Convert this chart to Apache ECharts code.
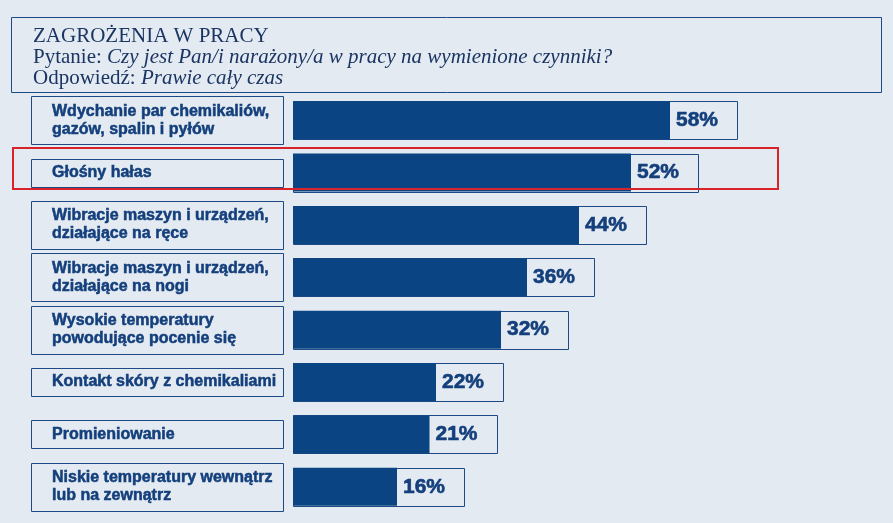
<!DOCTYPE html>
<html>
<head>
<meta charset="utf-8">
<script src="https://cdn.jsdelivr.net/npm/echarts@6/dist/echarts.min.js"></script>
<style>
html,body{margin:0;padding:0;background:#e4eaf1;}
#chart{width:893px;height:523px;}
</style>
</head>
<body>
<div id="chart"></div>
<script>
const categories = [
  'Wdychanie par chemikaliów,\ngazów, spalin i pyłów',
  'Głośny hałas',
  'Wibracje maszyn i urządzeń,\ndziałające na ręce',
  'Wibracje maszyn i urządzeń,\ndziałające na nogi',
  'Wysokie temperatury\npowodujące pocenie się',
  'Kontakt skóry z chemikaliami',
  'Promieniowanie',
  'Niskie temperatury wewnątrz\nlub na zewnątrz'
];
const values = [58, 52, 44, 36, 32, 22, 21, 16];
const titleText = 'ZAGROŻENIA W PRACY';
const questionLabel = 'Pytanie: ';
const questionText = 'Czy jest Pan/i narażony/a w pracy na wymienione czynniki?';
const answerLabel = 'Odpowiedź: ';
const answerText = 'Prawie cały czas';

const DARK = '#0a4482';
const LINE = '#1d4a85';
const TXT = '#133f7c';

const chart = echarts.init(document.getElementById('chart'), null, {renderer: 'canvas'});
const serif = {fontFamily: 'Liberation Serif', fontSize: 21, fontWeight: 'normal', color: '#1b3563', lineHeight: 21};
chart.setOption({
  backgroundColor: '#e4eaf1',
  animation: false,
  title: {
    left: 28, top: 21,
    text: '{a|' + titleText + '}\n{b|' + questionLabel + '}{c|' + questionText + '}\n{b|' + answerLabel + '}{c|' + answerText + '}',
    textStyle: {
      fontWeight: 'normal',
      rich: {
        a: serif,
        b: serif,
        c: Object.assign({}, serif, {fontStyle: 'italic'})
      }
    }
  },
  graphic: [
    {type: 'rect', shape: {x: 11.5, y: 17.5, width: 870, height: 75}, style: {fill: 'none', stroke: LINE, lineWidth: 1}, z: 10},
    {type: 'rect', shape: {x: 13, y: 148, width: 765, height: 41}, style: {fill: 'none', stroke: '#d9232a', lineWidth: 2}, z: 10}
  ],
  grid: {left: 293, right: 15, top: 94, bottom: 10, containLabel: false},
  xAxis: {type: 'value', min: 0, max: 90, show: false},
  yAxis: {
    type: 'category', data: categories, inverse: true,
    axisLine: {show: false}, axisTick: {show: false},
    axisLabel: {
      margin: 262, align: 'left', verticalAlign: 'middle',
      fontFamily: 'Liberation Sans', fontWeight: 'bold', fontSize: 16, color: TXT,
      textBorderColor: TXT, textBorderWidth: 0.5,
      lineHeight: 18, width: 230, padding: [0, 0, 0, 21]
    }
  },
  series: [
    {
      type: 'custom',
      z: 1,
      data: values.map((v, i) => [v, i]),
      encode: {x: 0, y: 1},
      renderItem: function (params, api) {
        const idx = api.value(1);
        const s = api.coord([0, idx]);
        const e = api.coord([api.value(0), idx]);
        const lines = categories[idx].split('\n').length;
        const lh = lines > 1 ? 48 : 28;
        return {
          type: 'group',
          children: [
            {
              type: 'rect',
              shape: {x: Math.round(s[0]) + 0.5, y: Math.round(s[1] - 19) + 0.5, width: Math.round(e[0] - s[0] + 67), height: 38},
              style: {fill: 'none', stroke: LINE, lineWidth: 1}
            },
            {
              type: 'rect',
              shape: {x: Math.round(s[0]) - 262 + 0.5, y: Math.round(s[1] - lh / 2) + 0.5, width: 252, height: lh},
              style: {fill: 'none', stroke: LINE, lineWidth: 1}
            }
          ]
        };
      }
    },
    {
      type: 'bar',
      z: 2,
      data: values,
      barWidth: 38,
      itemStyle: {color: DARK},
      label: {
        show: true, position: 'right', distance: 6,
        formatter: '{c}%',
        fontFamily: 'Liberation Sans', fontWeight: 'bold', fontSize: 21, color: TXT,
        textBorderColor: TXT, textBorderWidth: 0.6
      }
    }
  ]
});
</script>
</body>
</html>
